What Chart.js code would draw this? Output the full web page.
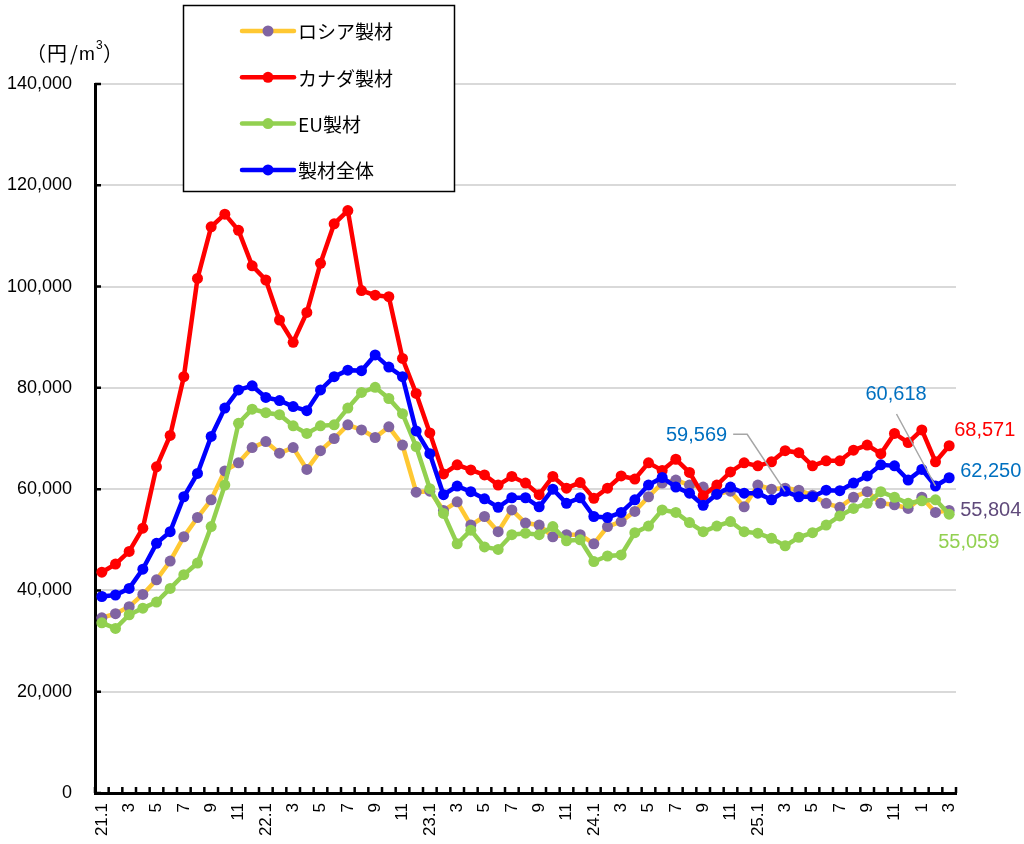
<!DOCTYPE html>
<html>
<head>
<meta charset="utf-8">
<script src="https://cdn.jsdelivr.net/npm/chart.js@4.4.1/dist/chart.umd.min.js"></script>
<style>
  html, body { margin: 0; background: #fff; }
  #wrap { width: 1024px; height: 844px; position: relative; }
</style>
</head>
<body>
<div id="wrap"><canvas id="chart" width="1024" height="844"></canvas></div>
<script>
// months 21.1 .. 26.3 (the chart labels 26.1 just as "1")
const categories = [
  '21.1','2','3','4','5','6','7','8','9','10','11','12',
  '22.1','2','3','4','5','6','7','8','9','10','11','12',
  '23.1','2','3','4','5','6','7','8','9','10','11','12',
  '24.1','2','3','4','5','6','7','8','9','10','11','12',
  '25.1','2','3','4','5','6','7','8','9','10','11','12',
  '1','2','3'
];

const russia = [34600,35400,36800,39200,42100,45800,50600,54400,57900,63600,
  65200,68200,69400,67100,68200,63900,67600,70000,72700,71700,
  70200,72300,68700,59400,59600,55800,57500,52900,54600,51600,
  55900,53300,52900,50600,51000,51000,49200,52600,53600,55600,
  58500,61200,61800,60800,60400,59000,59600,56500,60800,60000,
  60200,59800,58800,57200,56400,58400,59500,57200,56900,56200,
  58400,55400,55804];

const canada = [43600,45200,47700,52300,64400,70600,82200,101600,111800,114300,
  111100,104100,101300,93400,89000,94900,104600,112400,115000,99200,
  98300,98000,85800,78900,71100,63000,64800,63800,62800,60800,
  62500,61200,58900,62500,60200,61300,58200,60200,62600,62000,
  65200,63700,65900,63300,58700,60800,63400,65200,64600,65400,
  67600,67200,64600,65600,65600,67700,68700,67000,71000,69200,
  71700,65400,68571];

const eu = [33600,32500,35200,36500,37700,40400,43100,45400,52600,60800,
  73000,75800,75100,74700,72500,71000,72500,72700,76000,79100,
  80100,77900,74900,68400,60100,55200,49200,51900,48600,48100,
  51000,51300,51000,52600,49800,50000,45700,46800,47000,51400,
  52700,55900,55400,53400,51600,52700,53600,51600,51300,50300,
  48800,50500,51400,52900,54700,56200,57200,59500,58400,57200,
  57700,57900,55059];

const total = [38800,39100,40400,44200,49300,51600,58500,63100,70400,76000,
  79600,80400,78100,77500,76300,75500,79600,82200,83500,83400,
  86500,84100,82200,71500,67000,58900,60600,59500,58100,56400,
  58300,58300,56500,60000,57200,58300,54600,54400,55400,57900,
  60800,62300,60400,59200,56800,59000,60400,59200,59200,57900,
  59569,58500,58500,59800,59700,61200,62600,64800,64600,61800,
  63900,60618,62250];

const seriesNames = ['ロシア製材', 'カナダ製材', 'EU製材', '製材全体'];
const yTicks = [0, 20000, 40000, 60000, 80000, 100000, 120000, 140000];

const JP_FONT = '"Noto Sans CJK JP", sans-serif';
const NUM_FONT = '"Liberation Sans", Arial, sans-serif';
Chart.defaults.font.family = NUM_FONT;
Chart.defaults.color = '#000';

const fmt = v => v.toLocaleString('en-US');

function makeSet(label, data, line, marker, order) {
  return {
    label, data, order,
    borderColor: line,
    backgroundColor: marker,
    pointBackgroundColor: marker,
    pointBorderColor: marker,
    pointBorderWidth: 0,
    pointRadius: 5.5,
    borderWidth: 4.5,
    tension: 0
  };
}

// small tick marks pointing into the plot
const insideTicks = {
  id: 'insideTicks',
  afterDraw(chart) {
    const { ctx, chartArea: a, scales: { x, y } } = chart;
    const step = x.getPixelForValue(1) - x.getPixelForValue(0);
    ctx.save();
    ctx.strokeStyle = '#000';
    ctx.lineWidth = 2.5;
    ctx.beginPath();
    for (let i = 0; i <= categories.length; i++) {
      const px = x.getPixelForValue(0) - step / 2 + i * step;
      ctx.moveTo(px, a.bottom);
      ctx.lineTo(px, a.bottom - 6);
    }
    yTicks.forEach(v => {
      const py = y.getPixelForValue(v);
      ctx.moveTo(a.left, py);
      ctx.lineTo(a.left + 6, py);
    });
    ctx.stroke();
    ctx.restore();
  }
};

// value labels and leader lines
const valueLabels = {
  id: 'valueLabels',
  afterDatasetsDraw(chart) {
    const { ctx, scales: { x, y } } = chart;
    const last = categories.length - 1;
    const px = i => x.getPixelForValue(i);
    const py = v => y.getPixelForValue(v);
    ctx.save();
    ctx.font = '20px ' + NUM_FONT;
    ctx.textBaseline = 'middle';

    // leader lines
    ctx.strokeStyle = '#a6a6a6';
    ctx.lineWidth = 1.5;
    ctx.beginPath();
    ctx.moveTo(px(50) - 52, py(total[50]) - 57);
    ctx.lineTo(px(50) - 38, py(total[50]) - 57);
    ctx.lineTo(px(50), py(total[50]));
    ctx.moveTo(px(61) - 39, py(total[61]) - 72);
    ctx.lineTo(px(61), py(total[61]));
    ctx.stroke();

    ctx.textAlign = 'left';
    ctx.fillStyle = '#FF0000';
    ctx.fillText(fmt(canada[last]), px(last) + 5, py(canada[last]) - 15);
    ctx.fillStyle = '#0070C0';
    ctx.fillText(fmt(total[last]), px(last) + 11, py(total[last]) - 6);
    ctx.fillStyle = '#604A7B';
    ctx.fillText(fmt(russia[last]), px(last) + 11, py(russia[last]));
    ctx.fillStyle = '#92D050';
    ctx.fillText(fmt(eu[last]), px(last) - 11, py(eu[last]) + 28);
    ctx.fillStyle = '#0070C0';
    ctx.fillText(fmt(total[61]), px(61) - 70, py(total[61]) - 92);
    ctx.textAlign = 'right';
    ctx.fillText(fmt(total[50]), px(50) - 58, py(total[50]) - 56);
    ctx.restore();
  }
};

// boxed legend with line + marker samples, and the unit label
const boxLegend = {
  id: 'boxLegend',
  afterDraw(chart) {
    const { ctx } = chart;
    const sets = chart.data.datasets;
    ctx.save();
    ctx.fillStyle = '#fff';
    ctx.fillRect(183, 5, 272, 187);
    ctx.strokeStyle = '#000';
    ctx.lineWidth = 1.5;
    ctx.strokeRect(183.5, 5.5, 271, 186);
    ctx.font = '19px ' + JP_FONT;
    ctx.textBaseline = 'middle';
    ctx.textAlign = 'left';
    sets.forEach((ds, k) => {
      const cy = 31 + k * 46.3;
      ctx.strokeStyle = ds.borderColor;
      ctx.lineWidth = 4.5;
      ctx.lineCap = 'round';
      ctx.beginPath();
      ctx.moveTo(242, cy);
      ctx.lineTo(294, cy);
      ctx.stroke();
      ctx.fillStyle = ds.pointBackgroundColor;
      ctx.beginPath();
      ctx.arc(268, cy, 5.5, 0, Math.PI * 2);
      ctx.fill();
      ctx.fillStyle = '#000';
      ctx.fillText(ds.label, 298, cy + 1);
    });
    // unit label, built from pieces so the parens keep their full width
    ctx.font = '20px ' + JP_FONT;
    ctx.fillText('（', 26, 53);
    ctx.fillText('円', 47, 53);
    ctx.fillText('/', 70, 53);
    ctx.font = '19px ' + NUM_FONT;
    ctx.fillText('m', 79, 55);
    ctx.font = '12px ' + NUM_FONT;
    ctx.fillText('3', 96, 46);
    ctx.font = '20px ' + JP_FONT;
    ctx.fillText('）', 103, 53);
    ctx.restore();
  }
};

new Chart(document.getElementById('chart'), {
  type: 'line',
  data: {
    labels: categories,
    datasets: [
      makeSet(seriesNames[0], russia, '#FFC832', '#8064A2', 4),
      makeSet(seriesNames[1], canada, '#FF0000', '#FF0000', 3),
      makeSet(seriesNames[2], eu, '#92D050', '#92D050', 2),
      makeSet(seriesNames[3], total, '#0000FF', '#0000FF', 1)
    ]
  },
  options: {
    responsive: false,
    animation: false,
    devicePixelRatio: 1,
    layout: { padding: { left: 0, right: 68, top: 84, bottom: 0 } },
    plugins: {
      legend: { display: false },
      tooltip: { enabled: false }
    },
    scales: {
      x: {
        type: 'category',
        offset: true,
        grid: { display: false, drawTicks: false },
        border: { display: true, color: '#000', width: 3 },
        ticks: {
          autoSkip: false,
          minRotation: 90,
          maxRotation: 90,
          padding: 10,
          font: { size: 17 },
          callback: (v, i) => (i % 2 === 0 ? categories[i] : '')
        },
        afterFit(scale) { scale.height = 51; }
      },
      y: {
        min: 0,
        max: 140000,
        afterBuildTicks(scale) { scale.ticks = yTicks.map(v => ({ value: v })); },
        grid: { color: '#d9d9d9', lineWidth: 2, drawTicks: false },
        border: { display: true, color: '#000', width: 3 },
        ticks: {
          padding: 23,
          font: { size: 18 },
          callback: v => fmt(v)
        },
        afterFit(scale) { scale.width = 95; }
      }
    }
  },
  plugins: [insideTicks, valueLabels, boxLegend]
});
</script>
</body>
</html>
